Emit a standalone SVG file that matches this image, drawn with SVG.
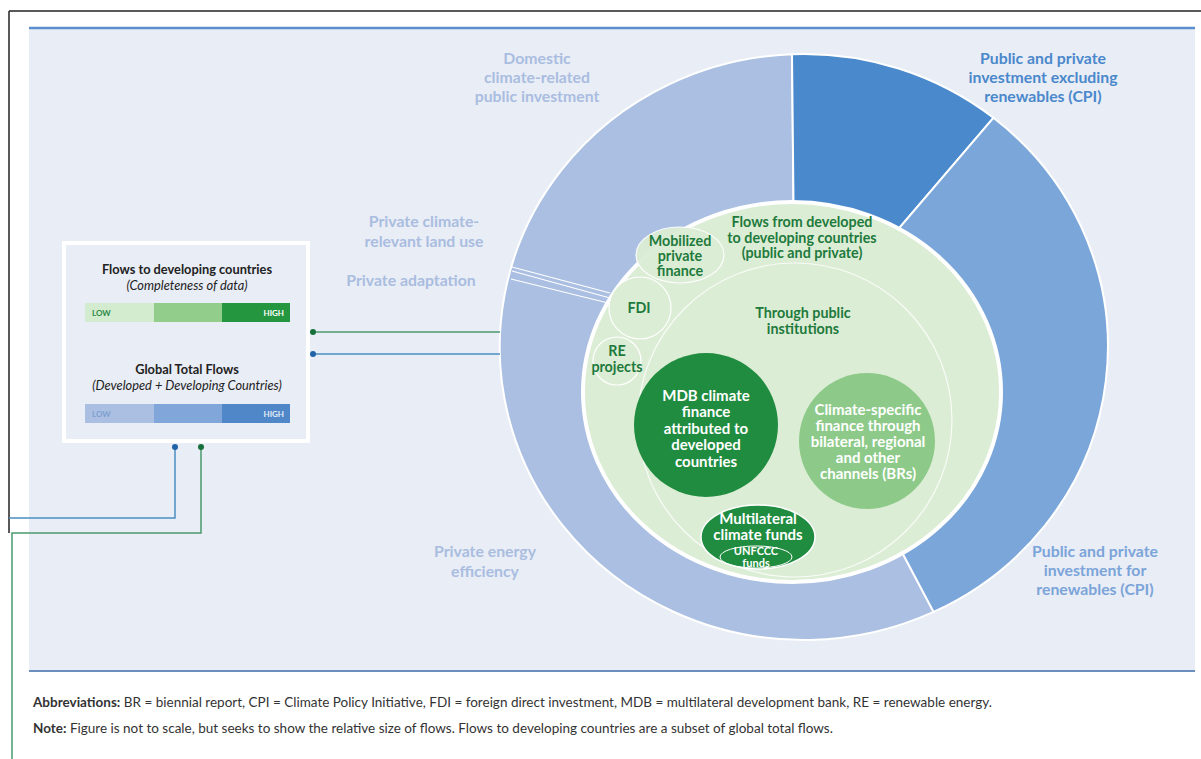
<svg xmlns="http://www.w3.org/2000/svg" width="1201" height="759" viewBox="0 0 1201 759">
<style>
.lbl{font-family:Lato,"Open Sans","Liberation Sans",sans-serif;font-weight:700;text-anchor:middle}
.outer{font-size:15.8px;fill:#a9bde0}
.dg{font-size:14.3px;fill:#1e7a3c}
.wt{font-size:15px;fill:#ffffff}
.lg{font-family:Lato,"Liberation Sans",sans-serif;font-size:12.8px;fill:#222;text-anchor:middle}
.foot{font-family:Lato,"Liberation Sans",sans-serif;font-size:13.5px;fill:#333}
.sep{stroke:#fff;stroke-width:2}
.conn{fill:none;stroke-width:1.5}
</style>
<defs>
<clipPath id="mcf"><ellipse cx="758" cy="537" rx="57" ry="32"/></clipPath>
</defs>
<rect width="1201" height="759" fill="#fff"/>
<g id="frame">
<line x1="9" y1="11" x2="1201" y2="11" stroke="#222" stroke-width="1.5"/>
<line x1="9" y1="11" x2="9" y2="533" stroke="#222" stroke-width="1.5"/>
<rect x="29" y="28" width="1166" height="643" fill="#e9edf6"/>
<line x1="29" y1="28" x2="1195" y2="28" stroke="#5b8fcf" stroke-width="2.5"/>
<line x1="29" y1="671" x2="1195" y2="671" stroke="#6a8fbf" stroke-width="2"/>
</g>
<g id="donut">
<path id="seg-domestic" d="M795 350 L933.6 611.9 A304 293 0 1 1 792 54.2 Z" fill="#aabfe2" class="sep"/>
<path id="seg-excl" d="M795 350 L792 54.2 A304 293 0 0 1 993.4 117.8 Z" fill="#4a89cc" class="sep"/>
<path id="seg-renew" d="M795 350 L993.4 117.8 A304 293 0 0 1 933.6 611.9 Z" fill="#7ba6da" class="sep"/>
<line x1="512" y1="267" x2="610" y2="293" stroke="#fff" stroke-width="1.2"/>
<line x1="512" y1="271" x2="610" y2="298" stroke="#fff" stroke-width="1.2"/>
<line x1="511" y1="279" x2="608" y2="303" stroke="#fff" stroke-width="1.2"/>
</g>
<g id="inner">
<ellipse cx="792" cy="392" rx="209" ry="190" fill="#dcedd5" stroke="#fff" stroke-width="4"/>
<circle id="public-inst" cx="795" cy="420" r="157" fill="none" stroke="#fff" stroke-width="1.2" opacity="0.8"/>
</g>
<g id="mobilized"><ellipse cx="680" cy="255" rx="44" ry="28" fill="#dcedd5" stroke="#fff" stroke-width="1.2" opacity="0.95"/>
<text class="lbl dg" x="680" y="246">Mobilized</text><text class="lbl dg" x="680" y="261">private</text><text class="lbl dg" x="680" y="276">finance</text></g>
<g id="fdi"><circle cx="640" cy="308" r="31" fill="#dcedd5" stroke="#fff" stroke-width="1.2"/>
<text class="lbl dg" x="639" y="313">FDI</text></g>
<g id="re"><circle cx="617" cy="361" r="24" fill="#dcedd5" stroke="#fff" stroke-width="1.2"/>
<text class="lbl dg" x="617" y="356">RE</text><text class="lbl dg" x="617" y="372">projects</text></g>
<g id="flows-dev"><text class="lbl dg" x="802" y="227">Flows from developed</text><text class="lbl dg" x="802" y="243">to developing countries</text><text class="lbl dg" x="802" y="258">(public and private)</text></g>
<g id="through"><text class="lbl dg" x="803" y="318">Through public</text><text class="lbl dg" x="803" y="334">institutions</text></g>
<g id="mdb"><circle cx="706" cy="425" r="72" fill="#208c40"/>
<text class="lbl wt" x="706" y="401">MDB climate</text><text class="lbl wt" x="706" y="417">finance</text><text class="lbl wt" x="706" y="434">attributed to</text><text class="lbl wt" x="706" y="450">developed</text><text class="lbl wt" x="706" y="467">countries</text></g>
<g id="climate-specific"><circle cx="867" cy="441" r="68" fill="#8dca89"/>
<text class="lbl wt" x="868" y="415">Climate-specific</text><text class="lbl wt" x="868" y="431">finance through</text><text class="lbl wt" x="868" y="447">bilateral, regional</text><text class="lbl wt" x="868" y="463">and other</text><text class="lbl wt" x="868" y="479">channels (BRs)</text></g>
<g id="multilateral"><ellipse cx="758" cy="537" rx="57" ry="32" fill="#208c40" stroke="#fff" stroke-width="1.5"/>
<text class="lbl wt" x="758" y="524">Multilateral</text><text class="lbl wt" x="758" y="540">climate funds</text>
<g clip-path="url(#mcf)"><ellipse cx="756" cy="557" rx="36" ry="11" fill="none" stroke="#fff" stroke-width="1"/>
<text class="lbl wt" x="756" y="555" style="font-size:11px">UNFCCC</text><text class="lbl wt" x="756" y="567" style="font-size:11px">funds</text></g></g>
<g id="labels">
<text class="lbl outer" x="537" y="64">Domestic</text><text class="lbl outer" x="537" y="83">climate-related</text><text class="lbl outer" x="537" y="102">public investment</text>
<text class="lbl outer" x="424" y="227">Private climate-</text><text class="lbl outer" x="424" y="247">relevant land use</text>
<text class="lbl outer" x="411" y="286">Private adaptation</text>
<text class="lbl outer" x="485" y="557">Private energy</text><text class="lbl outer" x="485" y="577">efficiency</text>
<text class="lbl outer" x="1043" y="64" style="fill:#4a88cb">Public and private</text><text class="lbl outer" x="1043" y="83" style="fill:#4a88cb">investment excluding</text><text class="lbl outer" x="1043" y="102" style="fill:#4a88cb">renewables (CPI)</text>
<text class="lbl outer" x="1095" y="557" style="fill:#7ba4d9">Public and private</text><text class="lbl outer" x="1095" y="576" style="fill:#7ba4d9">investment for</text><text class="lbl outer" x="1095" y="595" style="fill:#7ba4d9">renewables (CPI)</text>
</g>
<g id="legend">
<rect x="64" y="243" width="244" height="198" fill="#e9edf6" stroke="#fff" stroke-width="4"/>
<text class="lg" x="187" y="274" font-weight="700">Flows to developing countries</text>
<text class="lg" x="187" y="290" font-style="italic">(Completeness of data)</text>
<rect x="85" y="303" width="69" height="19" fill="#d3ebcf"/><rect x="154" y="303" width="68" height="19" fill="#92cd8c"/><rect x="222" y="303" width="68" height="19" fill="#24963f"/>
<text x="92" y="316" style="font-family:Lato,sans-serif;font-size:8px;font-weight:700;fill:#2d8a45">LOW</text>
<text x="284" y="316" text-anchor="end" style="font-family:Lato,sans-serif;font-size:8px;font-weight:700;fill:#fff">HIGH</text>
<text class="lg" x="187" y="374" font-weight="700">Global Total Flows</text>
<text class="lg" x="187" y="390" font-style="italic">(Developed + Developing Countries)</text>
<rect x="85" y="404" width="69" height="19" fill="#aabfe2"/><rect x="154" y="404" width="68" height="19" fill="#80a6da"/><rect x="222" y="404" width="68" height="19" fill="#4f87c8"/>
<text x="92" y="417" style="font-family:Lato,sans-serif;font-size:8px;font-weight:700;fill:#7f9fd0">LOW</text>
<text x="284" y="417" text-anchor="end" style="font-family:Lato,sans-serif;font-size:8px;font-weight:700;fill:#e4ecf8">HIGH</text>
</g>
<g id="connectors">
<polyline class="conn" points="313,332 500,332" stroke="#4a9a6e"/>
<polyline class="conn" points="313,354 500,354" stroke="#4b8ec2"/>
<polyline class="conn" points="175,447 175,518 9,518" stroke="#4b8ec2"/>
<polyline class="conn" points="201,447 201,533 12,533 12,759" stroke="#4a9a6e"/>
<circle cx="313" cy="332" r="3" fill="#16703c"/>
<circle cx="313" cy="354" r="3" fill="#1f63a8"/>
<circle cx="175" cy="447" r="3" fill="#1f63a8"/>
<circle cx="201" cy="447" r="3" fill="#16703c"/>
</g>
<g id="footnotes">
<text class="foot" x="33" y="707"><tspan font-weight="700">Abbreviations:</tspan> BR = biennial report, CPI = Climate Policy Initiative, FDI = foreign direct investment, MDB = multilateral development bank, RE = renewable energy.</text>
<text class="foot" x="33" y="733"><tspan font-weight="700">Note:</tspan> Figure is not to scale, but seeks to show the relative size of flows. Flows to developing countries are a subset of global total flows.</text>
</g>
</svg>
